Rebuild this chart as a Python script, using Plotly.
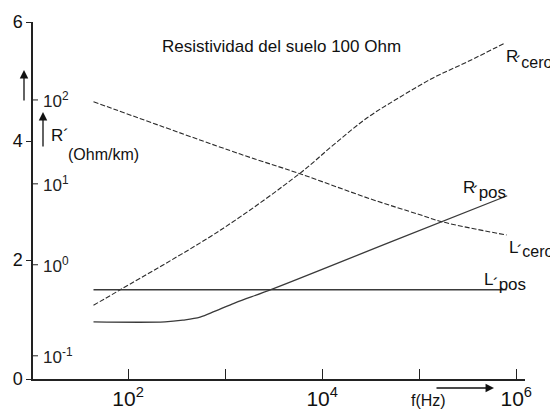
import plotly.graph_objects as go

# ---- data (frequency in Hz, value on the 0..6 axis) ----
f_lcero = [44, 1430, 5900, 31000, 102000, 174000, 794000]
v_lcero = [4.66, 3.78, 3.45, 3.03, 2.76, 2.64, 2.42]

f_rcero = [44, 83, 890, 5930, 12970, 29100, 63700, 139000, 313000, 771000]
v_rcero = [1.24, 1.50, 2.50, 3.46, 3.93, 4.39, 4.74, 5.06, 5.33, 5.65]

f_rpos = [44, 240, 369, 552, 789, 1268, 3055, 50200, 807000]
v_rpos = [0.96, 0.96, 0.99, 1.04, 1.14, 1.28, 1.51, 2.30, 3.08]

f_lpos = [44, 794000]
v_lpos = [1.50, 1.50]

y_ticks = [0, 2, 4, 6]
x_ticks = [100, 1000, 10000, 100000, 1000000]
x_ticktext = ["10<sup>2</sup>", "", "10<sup>4</sup>", "", "10<sup>6</sup>"]

inner_labels = ["10<sup>2</sup>", "10<sup>1</sup>", "10<sup>0</sup>", "10<sup>-1</sup>"]
inner_values = [4.69, 3.28, 1.92, 0.39]

title_text = "Resistividad del suelo 100 Ohm"

FONT = "Liberation Sans, Arial, sans-serif"
PAGE_OFF = 8  # default body margin of the html page
W, H = 558 - PAGE_OFF, 410 - PAGE_OFF
L, R, T, B = 33, 525, 22, 379  # plot area in page pixels


def px(x):
    return (x - L) / (R - L)


def py(y):
    return (B - y) / (B - T)


fig = go.Figure()
dash_style = dict(color="#2a2a2a", width=1.1, dash="5px,2px")
solid_style = dict(color="#3a3a3a", width=1.3)
fig.add_trace(go.Scatter(x=f_lcero, y=v_lcero, mode="lines", line=dash_style, line_shape="spline"))
fig.add_trace(go.Scatter(x=f_rcero, y=v_rcero, mode="lines", line=dash_style, line_shape="spline"))
fig.add_trace(go.Scatter(x=f_rpos, y=v_rpos, mode="lines",
                         line=dict(solid_style, shape="spline", smoothing=1.0)))
fig.add_trace(go.Scatter(x=f_lpos, y=v_lpos, mode="lines", line=solid_style))

ann = []
shapes = []


def text(xp, yp, s, size=17, anchor="left"):
    ann.append(dict(x=px(xp), y=py(yp), xref="paper", yref="paper", text=s,
                    xanchor=anchor, yanchor="middle", showarrow=False,
                    font=dict(size=size, color="#111")))


# title
text(281, 47, title_text, size=17, anchor="center")

# inner log labels with small ticks
for lab, v in zip(inner_labels, inner_values):
    shapes.append(dict(type="line", xref="paper", yref="y", x0=0, x1=px(38), y0=v, y1=v,
                       line=dict(color="#222", width=1)))
    ann.append(dict(x=px(41), y=v, xref="paper", yref="y", text=lab, xanchor="left",
                    yanchor="middle", showarrow=False, font=dict(size=17, color="#222")))

# curve labels
text(504, 57, "R", 17)
text(514, 62, "´cero", 16)
text(461, 187, "R", 17)
text(471, 192, "´pos", 17)
text(507, 247, "L", 17)
text(515, 252, "´cero", 16)
text(482, 279, "L", 17)
text(491, 284, "´pos", 17)

# left axis labels
text(49, 135, "R´", 17)
text(66, 154, "(Ohm/km)", 16)

# arrows (tail offsets in pixels)
arrow_style = dict(xref="paper", yref="paper", axref="pixel", ayref="pixel", text="",
                   showarrow=True, arrowhead=2, arrowsize=1.3, arrowwidth=1.3, arrowcolor="#111")
ann.append(dict(x=px(24), y=py(70), ax=0, ay=32, **arrow_style))
ann.append(dict(x=px(43), y=py(112), ax=0, ay=36, **arrow_style))
ann.append(dict(x=px(494), y=py(388), ax=-59, ay=0, **arrow_style))
text(428, 400, "f(Hz)", 16, anchor="center")

fig.update_layout(
    width=W, height=H,
    margin=dict(l=L - PAGE_OFF, r=W - (R - PAGE_OFF), t=T - PAGE_OFF, b=H - (B - PAGE_OFF),
                autoexpand=False),
    paper_bgcolor="white", plot_bgcolor="white",
    showlegend=False,
    font=dict(family=FONT, color="#111"),
    annotations=ann, shapes=shapes,
    xaxis=dict(type="log", range=[1.02, 6.09], tickvals=x_ticks, ticktext=x_ticktext,
               ticks="inside", ticklen=10, tickwidth=1, tickcolor="#222", automargin=False,
               showline=True, linecolor="#222", linewidth=1.5, showgrid=False, zeroline=False,
               tickfont=dict(size=21, color="#111")),
    yaxis=dict(range=[0, 6], tickvals=y_ticks, ticks="outside", ticklen=5, tickwidth=1,
               tickcolor="#222", showline=True, linecolor="#222", linewidth=1.5, automargin=False,
               showgrid=False, zeroline=False, tickfont=dict(size=18, color="#111")),
)

fig.write_html("out.html")
